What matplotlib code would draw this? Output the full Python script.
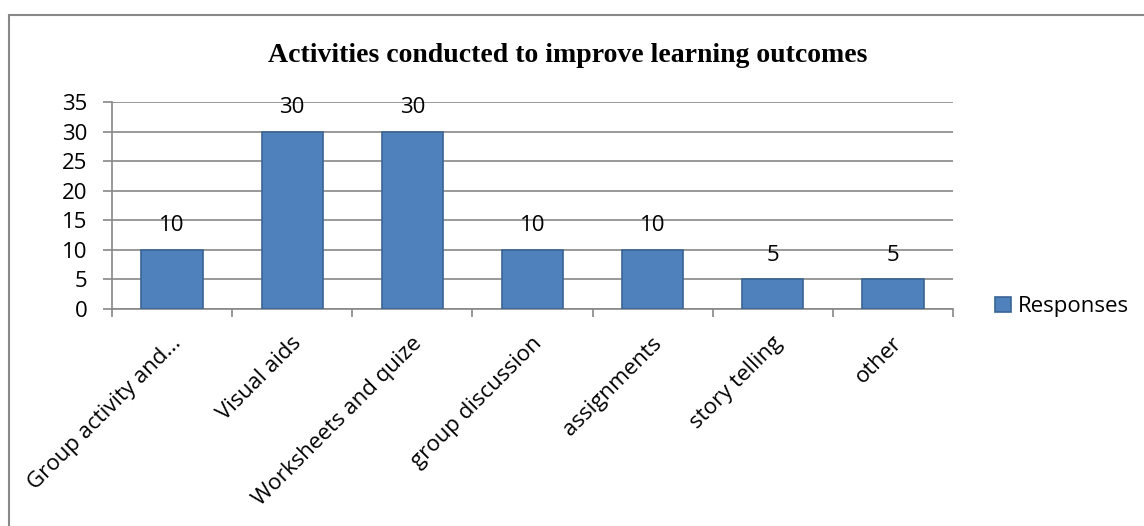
import matplotlib.pyplot as plt
from matplotlib.patches import Rectangle
from matplotlib.transforms import ScaledTranslation

categories = ["Group activity and...", "Visual aids", "Worksheets and quize",
              "group discussion", "assignments", "story telling", "other"]
responses = [10, 30, 30, 10, 10, 5, 5]
yticks = [0, 5, 10, 15, 20, 25, 30, 35]

plt.rcParams['font.family'] = ['Open Sans', 'DejaVu Sans']
fs = 16

fig = plt.figure(figsize=(11.44, 5.26), dpi=100)
ax = fig.add_axes([0.0979, 0.4125, 0.7351, 0.3935])

# outer chart frame (runs off the right and bottom edges)
fig.patches.append(Rectangle((9 / 1144, -0.1), 1.2, 1 - 15 / 526 + 0.1,
                             transform=fig.transFigure, fill=False,
                             edgecolor='#888888', linewidth=1.5))

x = range(len(categories))
bars = ax.bar(x, responses, width=0.51, color='#4F81BD', edgecolor='#3A6594',
              linewidth=1.2, label='Responses', zorder=3)

for xi, v in zip(x, responses):
    ax.annotate(str(v), (xi, v), xytext=(0, 17.5), textcoords='offset points',
                ha='center', va='center', fontsize=fs)

ax.set_xlim(-0.5, len(categories) - 0.5)
ax.set_ylim(0, 35)
ax.set_yticks(yticks)
ax.tick_params(axis='y', labelsize=fs, length=6.5, pad=11, color='#888888', width=1.2)
ax.yaxis.grid(True, color='#888888', linewidth=1.2, zorder=0)

# category boundary ticks on the x axis
ax.set_xticks([i - 0.5 for i in range(len(categories) + 1)], minor=False)
ax.set_xticklabels([])
ax.tick_params(axis='x', which='major', length=6, color='#888888', width=1.2)
ax.set_xticks(list(x), minor=True)
ax.set_xticklabels(categories, minor=True, rotation=45, ha='right',
                   rotation_mode='anchor', fontsize=fs)
ax.tick_params(axis='x', which='minor', length=0, pad=17)
offset = ScaledTranslation(-1 / 100, 0, fig.dpi_scale_trans)
for lbl in ax.get_xticklabels(minor=True):
    lbl.set_transform(lbl.get_transform() + offset)

for side in ['top', 'right']:
    ax.spines[side].set_visible(False)
for side in ['left', 'bottom']:
    ax.spines[side].set_color('#888888')
    ax.spines[side].set_linewidth(1.2)

fig.text(0.496, 0.895, 'Activities conducted to improve learning outcomes',
         ha='center', va='center', fontsize=20, fontweight='bold',
         family=['Liberation Serif'])

ax.legend(loc='center left', bbox_to_anchor=(1.04, 0.01), frameon=False,
          fontsize=fs, handlelength=0.7, handleheight=0.7,
          handletextpad=0.3, borderaxespad=0.0)

fig.savefig('out.png', dpi=100)
